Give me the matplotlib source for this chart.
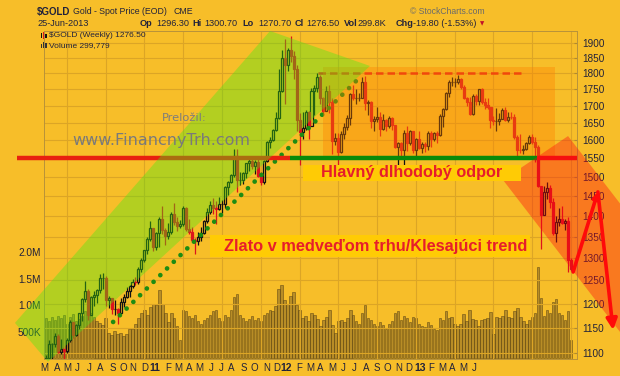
import matplotlib
matplotlib.use("Agg")
import matplotlib.pyplot as plt
from matplotlib.patches import Polygon, Rectangle, FancyArrowPatch
from matplotlib.ticker import FixedLocator, FixedFormatter, NullLocator
import numpy as np

# ---------------- data: weekly $GOLD candles (week 0 = 12-Feb-2010) ----------------
open_2010 = [1064,1091,1117,1118,1133,1103,1107,1105,1126,1161,1136,1156,1180,1209,1227,1177,1214,1218,1229,1256,1256,1208,1211,1189,1189,1181,1204,1215,1227,1237,1247,1246,1276,1297,1318,1345,1370,1327,1358,1394,1367,1353,1362,1406,1385,1376,1380]
high_2010 = [1096,1125,1120,1140,1138,1127,1108,1130,1166,1162,1158,1181,1212,1249,1232,1217,1227,1232,1264,1266,1261,1216,1213,1207,1191,1212,1220,1235,1241,1254,1258,1280,1300,1320,1349,1387,1372,1362,1398,1424,1370,1383,1410,1432,1397,1390,1424]
low_2010 = [1058,1088,1086,1111,1100,1098,1085,1101,1122,1130,1133,1148,1163,1203,1166,1176,1196,1201,1222,1231,1195,1190,1178,1177,1157,1178,1192,1212,1215,1234,1241,1243,1268,1291,1310,1339,1316,1318,1327,1357,1331,1344,1357,1378,1363,1372,1375]
close_2010 = [1091,1117,1118,1133,1103,1107,1105,1126,1161,1136,1156,1180,1209,1227,1177,1214,1218,1229,1256,1256,1208,1211,1189,1189,1181,1204,1215,1227,1237,1247,1246,1276,1297,1318,1345,1370,1327,1358,1394,1367,1353,1362,1406,1385,1376,1380,1421]

open_2011 = [1421,1369,1361,1342,1341,1349,1360,1388,1409,1428,1421,1418,1429,1429,1474,1486,1504,1556,1491,1493,1510,1536,1542,1529,1539,1502,1486,1542,1594,1601,1628,1663,1745,1851,1828,1877,1856,1814,1657,1624,1636,1682,1642,1744,1755,1788,1724,1685,1746,1713,1598,1607]
high_2011 = [1422,1394,1373,1346,1361,1374,1390,1419,1438,1445,1437,1447,1440,1476,1490,1508,1575,1577,1514,1512,1537,1549,1549,1546,1556,1512,1545,1597,1610,1632,1682,1814,1877,1912,1883,1921,1873,1826,1679,1681,1687,1684,1755,1764,1802,1796,1726,1762,1764,1724,1621,1622]
low_2011 = [1364,1356,1337,1309,1331,1340,1356,1384,1405,1405,1381,1415,1407,1421,1453,1484,1500,1462,1479,1481,1498,1516,1522,1508,1499,1478,1481,1540,1578,1597,1627,1660,1741,1706,1809,1835,1781,1627,1532,1605,1630,1604,1640,1672,1742,1705,1672,1684,1680,1562,1586,1523]
close_2011 = [1369,1361,1342,1341,1349,1360,1388,1409,1428,1421,1418,1429,1429,1474,1486,1504,1556,1491,1493,1510,1536,1542,1529,1539,1502,1486,1542,1594,1601,1628,1663,1745,1851,1828,1877,1856,1814,1657,1624,1636,1682,1642,1744,1755,1788,1724,1685,1746,1713,1598,1607,1566]

open_2012 = [1566,1617,1639,1665,1737,1725,1725,1725,1774,1710,1711,1656,1662,1668,1631,1659,1642,1663,1643,1580,1592,1573,1622,1591,1627,1572,1604,1579,1589,1584,1620,1605,1621,1616,1671,1692,1740,1772,1773,1774,1781,1758,1724,1712,1676,1731,1714,1750,1712,1702,1696,1657]
high_2012 = [1627,1648,1672,1740,1764,1750,1740,1790,1792,1718,1714,1670,1697,1681,1676,1661,1669,1668,1645,1596,1596,1628,1640,1628,1627,1606,1625,1595,1596,1625,1625,1624,1625,1675,1693,1741,1778,1788,1787,1796,1786,1763,1728,1727,1735,1737,1752,1754,1724,1725,1697,1669]
low_2012 = [1565,1604,1628,1644,1718,1705,1715,1724,1687,1672,1635,1627,1651,1613,1629,1627,1636,1630,1578,1527,1555,1533,1570,1588,1564,1547,1576,1564,1567,1572,1581,1598,1592,1613,1639,1689,1728,1760,1756,1766,1750,1721,1700,1674,1673,1702,1704,1705,1690,1691,1636,1645]
close_2012 = [1617,1639,1665,1737,1725,1725,1725,1774,1710,1711,1656,1662,1668,1631,1659,1642,1663,1643,1580,1592,1573,1622,1591,1627,1572,1604,1579,1589,1584,1620,1605,1621,1616,1671,1692,1740,1772,1773,1774,1781,1758,1724,1712,1676,1731,1714,1750,1712,1702,1696,1657,1656]

open_2013 = [1656,1656,1662,1687,1658,1668,1667,1609,1573,1572,1577,1592,1608,1596,1580,1476,1403,1462,1470,1436,1360,1386,1392,1384,1387,1296]
high_2013 = [1694,1679,1693,1696,1683,1681,1675,1615,1617,1588,1596,1616,1617,1608,1587,1476,1476,1487,1480,1446,1401,1419,1424,1394,1398,1301]
low_2013 = [1626,1644,1661,1655,1651,1661,1603,1555,1565,1562,1574,1590,1590,1540,1473,1321,1403,1443,1421,1355,1338,1376,1380,1366,1269,1270]
close_2013 = [1656,1662,1687,1658,1668,1667,1609,1573,1572,1577,1592,1608,1596,1580,1476,1403,1462,1470,1436,1360,1386,1392,1384,1387,1296,1276.5]

# weekly volume, thousands
volume_2010 = [760,700,780,720,800,760,820,650,780,830,700,740,800,880,900,860,780,700,660,620,
               760,480,430,520,450,470,420,460,560,560,640,760,850,910,815,965,1030,1000,1280,
               1030,850,680,850,760,600,340,910]
volume_2011 = [880,800,760,820,700,650,720,760,820,880,900,760,700,820,780,900,1150,1200,820,760,
               700,740,800,720,760,700,820,860,900,880,980,1300,1380,1100,1020,1180,1250,1000,900,
               760,800,700,850,820,740,600,720,780,900,620,480,700]
volume_2012 = [720,680,760,900,820,700,640,860,1000,760,720,640,600,680,620,560,640,700,860,880,
               720,800,760,680,780,760,640,600,580,680,620,560,540,760,720,880,760,780,640,600,
               640,830,700,900,740,720,600,720,740,750,870,450]
volume_2013 = [780,750,800,900,780,760,880,950,780,700,650,720,780,860,1720,1130,800,900,860,1050,
               1120,850,820,720,880,340]

price_ticks = [1100,1150,1200,1250,1300,1350,1400,1450,1500,1550,1600,1650,1700,1750,1800,1850,1900]
volume_ticks = [500e3, 1.0e6, 1.5e6, 2.0e6]
volume_tick_labels = ["500K", "1.0M", "1.5M", "2.0M"]
month_labels = ["M","A","M","J","J","A","S","O","N","D","11","F","M","A","M","J","J","A","S","O","N","D",
                "12","F","M","A","M","J","J","A","S","O","N","D","13","F","M","A","M","J"]
month_label_pos = [-0.67,3.69,7.04,10.39,14.41,18.10,22.46,25.81,29.16,33.0,36.5,40.9,44.25,47.94,51.29,
                   55.31,58.67,62.02,66.38,69.73,74.09,77.2,80.5,84.81,88.5,91.85,95.88,99.56,103.25,
                   107.27,110.96,114.31,118.34,121.5,125.3,129.07,132.75,136.11,139.79,143.48]
quarter_weeks = [7, 20, 33, 46, 59, 72, 85, 98, 111, 124, 137, 150, 163, 176]
support_level = 1550
range_top = 1800

O = np.array(open_2010 + open_2011 + open_2012 + open_2013, float)
Hh = np.array(high_2010 + high_2011 + high_2012 + high_2013, float)
L = np.array(low_2010 + low_2011 + low_2012 + low_2013, float)
C = np.array(close_2010 + close_2011 + close_2012 + close_2013, float)
V = np.array(volume_2010 + volume_2011 + volume_2012 + volume_2013, float) * 1000
x = np.arange(len(C))

# ---------------- styling ----------------
BG = "#F7BE29"
GRID = "#DCA526"
TXT = "#22223A"
RED = "#DC141C"
BLK = "#111111"
FONT = "Liberation Sans"

W, Hpx = 620, 376
def fx(px): return px / W
def fy(py): return 1 - py / Hpx

fig = plt.figure(figsize=(6.2, 3.76), dpi=100)
fig.patch.set_facecolor(BG)
rect = [fx(44), fy(359), (577 - 44) / W, (359 - 31) / Hpx]
XL = (-0.67, 178.0)

# volume panel (behind)
axv = fig.add_axes(rect, zorder=0)
axv.set_facecolor(BG)
axv.bar(x, V, width=0.82, color=(0.52, 0.40, 0.14, 0.55), edgecolor=(0.36, 0.27, 0.08, 0.8), lw=0.45)
axv.set_xlim(*XL)
axv.set_ylim(-13000, 6152000)
axv.set_yticks(volume_ticks)
axv.set_yticklabels(volume_tick_labels)
axv.tick_params(axis="y", length=0, pad=2, labelsize=7.3, labelcolor=TXT)
for t in axv.get_yticklabels():
    t.set_fontfamily(FONT)
axv.set_xticks([])
for s in axv.spines.values():
    s.set_visible(False)

# price panel
ax = fig.add_axes(rect, zorder=1)
ax.set_facecolor("none")
ax.set_yscale("log")
ax.set_xlim(*XL)
ax.set_ylim(1088.6, 1939.5)
ax.yaxis.set_major_locator(FixedLocator(price_ticks))
ax.yaxis.set_major_formatter(FixedFormatter([str(p) for p in price_ticks]))
ax.yaxis.set_minor_locator(NullLocator())
ax.yaxis.tick_right()
ax.tick_params(axis="y", direction="in", length=2, color="#B08A30", pad=3.5, labelsize=7.2, labelcolor=TXT)
ax.set_xticks(month_label_pos)
ax.set_xticklabels(month_labels)
ax.tick_params(axis="x", length=0, pad=3, labelsize=7, labelcolor=TXT)
for t in ax.get_yticklabels() + ax.get_xticklabels():
    t.set_fontfamily(FONT)
for t in ax.get_xticklabels():
    if t.get_text() in ("11", "12", "13"):
        t.set_fontweight("bold")
        t.set_fontsize(7.5)
ax.yaxis.grid(True, color=GRID, lw=0.8)
ax.set_axisbelow(True)
for q in quarter_weeks:
    ax.axvline(q, color=GRID, lw=0.8, zorder=0.5)
for s in ax.spines.values():
    s.set_color("#B8923A")
    s.set_linewidth(0.7)

# candles
up = C >= O
top = np.maximum(O, C)
bot = np.minimum(O, C)
col = np.where(up, BLK, RED)
ax.vlines(x, top, Hh, colors=col, lw=0.9, zorder=3)
ax.vlines(x, L, bot, colors=col, lw=0.9, zorder=3)
ax.bar(x[up], (C - O)[up], bottom=O[up], width=0.68, facecolor="none", edgecolor=BLK, lw=0.9, zorder=3.1)
ax.bar(x[~up], (O - C)[~up], bottom=C[~up], width=0.68, facecolor=RED, edgecolor=RED, lw=0.9, zorder=3.1)

# annotation lines
ax.plot([22.5, 105.3], [1162, 1788.6], color="#1E8C12", lw=3.4, linestyle=(0, (0.01, 2.0)),
        dash_capstyle="round", zorder=3.5)
ax.plot([91.2, 159.6], [range_top, range_top], color="#E82814", lw=1.8, linestyle=(0, (3, 1.6)), zorder=3.5)
ax.plot([-9.7, 81.8], [support_level] * 2, color="#E8200F", lw=3.2, solid_capstyle="butt", zorder=5, clip_on=False)
ax.plot([81.8, 164.6], [support_level] * 2, color="#0A8A0A", lw=3.2, solid_capstyle="butt", zorder=5)
ax.plot([164.6, 178.0], [support_level] * 2, color="#F0140F", lw=3.2, solid_capstyle="butt", zorder=5)

# translucent overlays
ax.add_patch(Rectangle((92.9, 1551), 170.6 - 92.9, 1820 - 1551, facecolor=(1.0, 0.5, 0.0), alpha=0.37,
                       lw=0, zorder=4))
ax.add_patch(Polygon([(-10.4, 1160), (75.1, 1939.5), (108.6, 1823.6), (0.67, 1083)],
                     closed=True, facecolor=(0.27, 0.92, 0.08), alpha=0.38, lw=0, zorder=6, clip_on=False))
ax.add_patch(Polygon([(153.2, 1492), (175.0, 1612), (252.4, 951), (230.6, 880)],
                     closed=True, facecolor=(1.0, 0.02, 0.06), alpha=0.37, lw=0, zorder=6, clip_on=False))

# arrows
a1 = FancyArrowPatch((176.7, 1268.8), (185.0, 1461), arrowstyle="-|>", mutation_scale=8, lw=2.6,
                     color="#FF0A0A", zorder=8, clip_on=False, shrinkA=0, shrinkB=0)
a2 = FancyArrowPatch((185.0, 1461), (190.1, 1145.7), arrowstyle="-|>", mutation_scale=16, lw=2.6,
                     color="#FF0A0A", zorder=8, clip_on=False, shrinkA=0, shrinkB=0)
ax.add_patch(a1)
ax.add_patch(a2)

# text boxes
def fbox(x0, y0, x1, y1, color):
    r = Rectangle((fx(x0), fy(y1)), fx(x1) - fx(x0), fy(y0) - fy(y1), transform=fig.transFigure,
                  facecolor=color, lw=0, zorder=4)
    fig.add_artist(r)

fbox(303, 165, 521, 181, "#FFCB05")
fbox(210, 235, 530, 257, "#FFCB05")
fig.text(fx(412), fy(173), "Hlavný dlhodobý odpor", color="#E61E2B", fontsize=11.7, fontweight="bold",
         family=FONT, ha="center", va="center", zorder=5)
fig.text(fx(376), fy(246), "Zlato v medveďom trhu/Klesajúci trend", color="#E61E2B", fontsize=11.8,
         fontweight="bold", family=FONT, ha="center", va="center", zorder=5)
fig.text(fx(162), fy(118), "Preložil:", color="#7C7C7C", fontsize=8.2, family="DejaVu Sans",
         ha="left", va="center", zorder=5)
fig.text(fx(72), fy(140), "www.FinancnyTrh.com", color="#7A7A7A", fontsize=11.5, family="DejaVu Sans",
         ha="left", va="center", zorder=5)

# header
hdr = dict(family=FONT, color=TXT, va="center", zorder=5)
fig.text(fx(37), fy(11.5), "$GOLD", fontsize=7, fontweight="bold", **hdr)
fig.text(fx(73), fy(11.5), "Gold - Spot Price (EOD)", fontsize=6.3, **hdr)
fig.text(fx(174), fy(11.5), "CME", fontsize=6.3, **hdr)
fig.text(fx(37), fy(23.5), "25-Jun-2013", fontsize=6.6, **hdr)
fig.text(fx(410), fy(11.5), "© StockCharts.com", fontsize=6.2, family=FONT, color="#6A6A6A", va="center")
pieces = [(140, "Op", True), (156, "1296.30", False), (192, "Hi", True), (204, "1300.70", False),
          (242, "Lo", True), (258, "1270.70", False), (295, "Cl", True), (306, "1276.50", False),
          (344, "Vol", True), (357, "299.8K", False), (396, "Chg", True), (413, "-19.80 (-1.53%)", False)]
for px, s, b in pieces:
    fig.text(fx(px), fy(23.5), s, fontsize=6.6, fontweight="bold" if b else "normal", **hdr)
fig.text(fx(480), fy(24), "▼", fontsize=4, color="#C0102A", family="DejaVu Sans", va="center")

# legend inside panel
fig.text(fx(49), fy(35.5), "$GOLD (Weekly) 1276.50", fontsize=6, **hdr)
fig.text(fx(49), fy(45.5), "Volume 299,779", fontsize=6, **hdr)
for i, (h0, h1, c) in enumerate([(33, 38, BLK), (32, 39, RED), (34, 38, BLK)]):
    fig.add_artist(Rectangle((fx(40.5 + 2.3 * i), fy(h1)), 1.4 / W, (h1 - h0) / Hpx,
                             transform=fig.transFigure, facecolor=c, lw=0, zorder=5))
for i, h0 in enumerate([44, 42, 43]):
    fig.add_artist(Rectangle((fx(40.5 + 2.3 * i), fy(48)), 1.4 / W, (48 - h0) / Hpx,
                             transform=fig.transFigure, facecolor="#333333", lw=0, zorder=5))

fig.savefig("out.png", dpi=100, facecolor=BG)
